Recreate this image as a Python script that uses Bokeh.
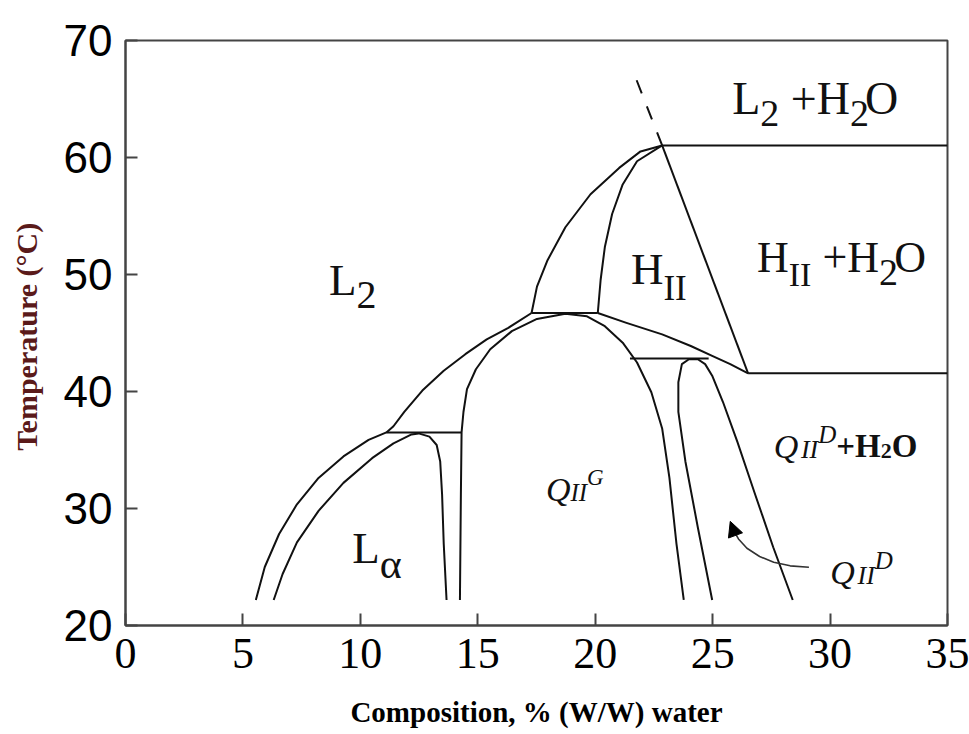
from bokeh.plotting import figure
from bokeh.models import Range1d, FixedTicker, Arrow, NormalHead
from bokeh.core.properties import value
from bokeh.embed import file_html
from bokeh.resources import INLINE

# ---------------- data ----------------
x_ticks = [0, 5, 10, 15, 20, 25, 30, 35]
y_ticks = [20, 30, 40, 50, 60, 70]

# L2 boundary (outer curve, kinks at the L-alpha tie line, ends at the 46.7 tie line)
l2_x = [5.55, 5.93, 6.54, 7.30, 8.22, 9.28, 10.35, 11.11, 11.41, 11.87, 12.64,
        13.55, 14.47, 15.38, 16.30, 17.29]
l2_y = [22.18, 25.0, 27.82, 30.36, 32.61, 34.45, 35.86, 36.5, 37.03, 38.25, 40.08,
        41.78, 43.19, 44.45, 45.44, 46.71]

# L-alpha region boundary
la_x = [6.31, 6.69, 7.30, 8.22, 9.28, 10.50, 11.41, 12.18, 12.48, 12.94, 13.25,
        13.40, 13.48, 13.55, 13.67]
la_y = [22.18, 24.4, 27.1, 29.8, 32.19, 34.3, 35.57, 36.33, 36.42, 36.14, 35.43,
        34.02, 31.2, 26.98, 22.18]

# L-alpha three-phase line
la_tie_x = [11.11, 14.31]
la_tie_y = [36.5, 36.5]

# QII(G) dome
qg_x = [14.24, 14.28, 14.31, 14.39, 14.54, 14.92, 15.53, 16.45, 17.52, 18.73, 19.65,
        20.41, 21.17, 21.78, 22.39, 22.85, 23.16, 23.46, 23.77]
qg_y = [22.18, 31.2, 36.5, 38.25, 40.2, 41.9, 43.61, 45.16, 46.2, 46.65, 46.43,
        45.58, 44.17, 42.48, 39.94, 36.84, 32.61, 26.98, 22.18]

# HII region: outer and inner left boundaries
ho_x = [17.29, 17.52, 17.97, 18.73, 19.80, 21.02, 21.93, 22.85]
ho_y = [46.71, 48.96, 51.22, 54.04, 56.86, 59.11, 60.52, 61.03]
hi_x = [20.11, 20.23, 20.41, 20.72, 21.17, 21.78, 22.85]
hi_y = [46.71, 49.53, 52.35, 55.17, 57.70, 59.68, 61.03]

# three-phase line at ~46.7
t46_x = [17.29, 20.11]
t46_y = [46.71, 46.71]

# HII right boundary (solid) and its dashed extension
hr_x = [22.85, 26.51]
hr_y = [61.03, 41.55]
hd_x = [22.85, 21.57]
hd_y = [61.03, 67.6]

# horizontal lines to the right edge
h61_x = [22.85, 35.0]
h61_y = [61.03, 61.03]
h41_x = [26.51, 35.0]
h41_y = [41.55, 41.55]

# upper curve from the 46.7 tie line down to 41.55
uc_x = [20.11, 21.33, 22.85, 24.07, 24.98, 25.75, 26.51]
uc_y = [46.71, 45.87, 44.88, 43.89, 43.04, 42.34, 41.55]

# three-phase line at ~42.8
t43_x = [21.48, 24.83]
t43_y = [42.82, 42.82]

# QII(D) loop
qd_x = [24.98, 24.37, 23.84, 23.54, 23.54, 23.69, 23.99, 24.37, 24.68, 24.98,
        25.44, 26.05, 26.81, 27.58, 28.41]
qd_y = [22.18, 28.38, 34.02, 38.25, 40.79, 42.34, 42.76, 42.76, 42.34, 41.35,
        39.1, 35.72, 31.2, 26.69, 22.18]

# pointer curve to QII(D)
ar_x = [29.1, 28.3, 27.6, 27.0, 26.46, 26.1, 25.9]
ar_y = [24.98, 25.1, 25.4, 25.9, 26.6, 27.4, 28.1]
ar_head_start = (25.88, 28.2)
ar_head_end = (25.75, 28.9)

# phase labels: anchor (left, baseline) and parts
# (text, px size, dy px, style, advance override in em or None)
label_x = [25.83, 26.89, 21.52, 8.66, 9.66, 17.9, 27.6, 30.01]
label_y = [65.04, 51.45, 50.45, 49.5, 26.6, 31.6, 35.3, 24.53]
label_parts = [
    [("L", 46, 0, "normal", None), ("2", 38, 15, "normal", None),
     (" +H", 46, 0, "normal", None), ("2", 38, 15, "normal", 0.4),
     ("O", 46, 0, "normal", None)],
    [("H", 44, 0, "normal", None), ("II", 34, 17, "normal", None),
     (" +H", 44, 0, "normal", None), ("2", 38, 15, "normal", 0.4),
     ("O", 44, 0, "normal", None)],
    [("H", 45, 0, "normal", None), ("II", 35, 19, "normal", None)],
    [("L", 45, 0, "normal", None), ("2", 40, 15, "normal", None)],
    [("L", 45, 0, "normal", None), ("α", 42, 16, "normal", None)],
    [("Q", 34, 0, "italic", None), ("II", 25, 3, "italic", None),
     ("G", 23, -12, "italic", None)],
    [("Q", 34, 0, "italic", 0.8), ("II", 26, 3, "italic", None),
     ("D", 25, -12, "italic", None), ("+H", 33, 0, "bold", None),
     ("2", 22, 5, "bold", None), ("O", 33, 0, "bold", None)],
    [("Q", 34, 0, "italic", 0.8), ("II", 26, 3, "italic", None),
     ("D", 25, -12, "italic", None)],
]

# approximate advance widths (em) of a Times-like serif
W = {" ": 0.25, "+": 0.564, "2": 0.5, "H": 0.722, "L": 0.611, "O": 0.722,
     "I": 0.333, "α": 0.53, "Q": 0.722, "D": 0.722, "G": 0.722}
WB = {"+": 0.57, "2": 0.5, "H": 0.778, "O": 0.778}

# ---------------- figure ----------------
p = figure(width=969, height=734, x_range=Range1d(0, 35), y_range=Range1d(20, 70),
           output_backend="svg", toolbar_location=None,
           min_border_left=125, min_border_right=22, min_border_top=40,
           min_border_bottom=109)
p.background_fill_color = "white"
p.border_fill_color = "white"
p.outline_line_color = "#444444"
p.outline_line_width = 2
p.grid.visible = False

for ax in (p.xaxis[0], p.yaxis[0]):
    ax.axis_line_color = "#444444"
    ax.axis_line_width = 2
    ax.major_tick_line_color = "#444444"
    ax.major_tick_line_width = 2
    ax.major_tick_in = 12
    ax.major_tick_out = 0
    ax.minor_tick_line_color = None
    ax.major_label_text_color = "black"

p.xaxis.ticker = FixedTicker(ticks=x_ticks)
p.yaxis.ticker = FixedTicker(ticks=y_ticks)
p.xaxis.major_label_text_font = "Liberation Sans Narrow"
p.xaxis.major_label_text_font_size = "44px"
p.xaxis.major_label_standoff = 13
p.yaxis.major_label_text_font = "Liberation Sans"
p.yaxis.major_label_text_font_size = "44px"
p.yaxis.major_label_standoff = 13

p.xaxis.axis_label = "Composition, % (W/W) water"
p.xaxis.axis_label_text_font = "Liberation Serif"
p.xaxis.axis_label_text_font_style = "bold"
p.xaxis.axis_label_text_font_size = "29px"
p.xaxis.axis_label_text_color = "black"
p.xaxis.axis_label_standoff = 25

p.yaxis.axis_label = "Temperature  (°C)"
p.yaxis.axis_label_text_font = "Liberation Serif"
p.yaxis.axis_label_text_font_style = "bold"
p.yaxis.axis_label_text_font_size = "30px"
p.yaxis.axis_label_text_color = "#5a1a1a"
p.yaxis.axis_label_standoff = 18

LC = "#111111"
LW = 2
for xs, ys in [(l2_x, l2_y), (la_x, la_y), (la_tie_x, la_tie_y), (qg_x, qg_y),
               (ho_x, ho_y), (hi_x, hi_y), (t46_x, t46_y), (hr_x, hr_y),
               (h61_x, h61_y), (h41_x, h41_y), (uc_x, uc_y), (t43_x, t43_y),
               (qd_x, qd_y)]:
    p.line(xs, ys, line_color=LC, line_width=LW, line_join="round")

p.line(hd_x, hd_y, line_color=LC, line_width=LW, line_dash="14 14")

p.line(ar_x, ar_y, line_color="#333333", line_width=1.6, line_join="round")
p.add_layout(Arrow(end=NormalHead(size=15, fill_color="black", line_color="black"),
                   x_start=ar_head_start[0], y_start=ar_head_start[1],
                   x_end=ar_head_end[0], y_end=ar_head_end[1],
                   line_alpha=0))

for lx, ly, parts in zip(label_x, label_y, label_parts):
    off = 0.0
    for txt, size, dy, style, adv in parts:
        lead = len(txt) - len(txt.lstrip(" "))
        core = txt.lstrip(" ")
        fstyle = "italic" if style == "italic" else ("bold" if style == "bold" else "normal")
        table = WB if style == "bold" else W
        p.text(x=[lx], y=[ly], text=[core], x_offset=off + lead * W[" "] * size,
               y_offset=dy, text_font=value("Liberation Serif"),
               text_font_size=f"{size}px", text_font_style=fstyle,
               text_align="left", text_baseline="alphabetic", text_color="#111111")
        if adv is not None:
            off += lead * W[" "] * size + adv * size
        else:
            off += sum(table.get(c, W.get(c, 0.5)) for c in txt) * size

open("out.html", "w").write(file_html(p, INLINE))
